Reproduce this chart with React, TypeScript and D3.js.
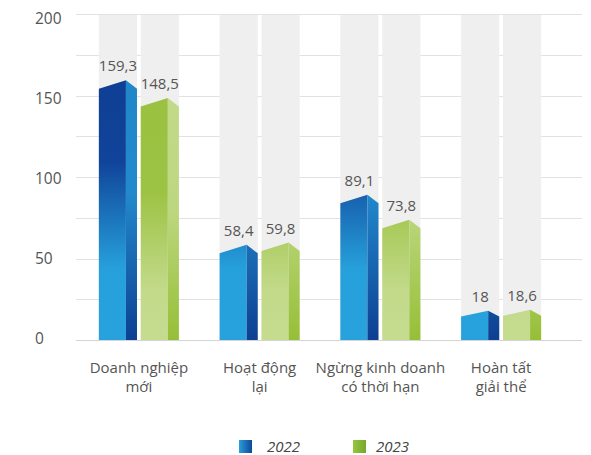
import React from "react";
import * as d3 from "d3";

const categories: string[][] = [
  ["Doanh nghiệp", "mới"],
  ["Hoạt động", "lại"],
  ["Ngừng kinh doanh", "có thời hạn"],
  ["Hoàn tất", "giải thể"],
];
const seriesNames = ["2022", "2023"];
const values2022 = [159.3, 58.4, 89.1, 18];
const values2023 = [148.5, 59.8, 73.8, 18.6];
const yTicks = [0, 50, 100, 150, 200];
const gridTicks = [0, 25, 50, 75, 100, 125, 150, 175, 200];

const W = 591;
const H = 455;
const FONT = "'Open Sans', 'DejaVu Sans', sans-serif";
const TEXT = "#555";

const fmt = (v: number) => String(v).replace(".", ",");

export default function App() {
  const y = d3.scaleLinear().domain([0, 200]).range([340, 14]);
  const yLabel = d3.scaleLinear().domain([0, 200]).range([339, 19]);
  const catKeys = categories.map((c) => c.join(" "));
  const x0 = d3
    .scaleBand<string>()
    .domain(catKeys)
    .range([78.5, 561.5])
    .paddingInner(0.337)
    .paddingOuter(0.1685);
  const x1 = d3
    .scaleBand<string>()
    .domain(seriesNames)
    .range([0, x0.bandwidth()])
    .paddingInner(0.09);

  const series = [values2022, values2023];
  const frontFill = ["url(#front22)", "url(#front23)"];
  const sideFill = ["url(#side22)", "url(#side23)"];

  const barPaths = (xs: number, w: number, v: number) => {
    const base = y(0);
    const peak = y(v);
    const drop = Math.min(8.5, (base - peak) * 0.2);
    const edge = peak + drop;
    const xm = xs + w * 0.71;
    const xe = xs + w;
    const front = `M${xs},${base}L${xs},${edge}L${xm},${peak}L${xm},${base}Z`;
    const side = `M${xm},${peak}L${xe},${edge}L${xe},${base}L${xm},${base}Z`;
    return { front, side, peak };
  };

  return (
    <svg
      width={W}
      height={H}
      style={{ position: "absolute", left: 0, top: 0, background: "#fff" }}
      fontFamily={FONT}
    >
      <defs>
        <linearGradient id="front22" gradientUnits="userSpaceOnUse" x1="0" y1="14" x2="0" y2="340">
          <stop offset="0" stopColor="#0d3c8f" />
          <stop offset="0.45" stopColor="#10439a" />
          <stop offset="0.78" stopColor="#26a0da" />
          <stop offset="1" stopColor="#28a2dc" />
        </linearGradient>
        <linearGradient id="side22" gradientUnits="userSpaceOnUse" x1="0" y1="14" x2="0" y2="340">
          <stop offset="0" stopColor="#1f86c8" />
          <stop offset="0.55" stopColor="#2289cc" />
          <stop offset="1" stopColor="#0d3f92" />
        </linearGradient>
        <linearGradient id="front23" gradientUnits="userSpaceOnUse" x1="0" y1="14" x2="0" y2="340">
          <stop offset="0" stopColor="#97bf3a" />
          <stop offset="0.55" stopColor="#9dc345" />
          <stop offset="0.85" stopColor="#c3da8b" />
          <stop offset="1" stopColor="#c5dc8f" />
        </linearGradient>
        <linearGradient id="side23" gradientUnits="userSpaceOnUse" x1="0" y1="14" x2="0" y2="340">
          <stop offset="0" stopColor="#c6dc90" />
          <stop offset="0.6" stopColor="#bdd780" />
          <stop offset="1" stopColor="#96bf37" />
        </linearGradient>
        <linearGradient id="leg22" x1="0" y1="0" x2="1" y2="0">
          <stop offset="0" stopColor="#2a9ed9" />
          <stop offset="1" stopColor="#0f4799" />
        </linearGradient>
        <linearGradient id="leg23" x1="0" y1="0" x2="1" y2="0">
          <stop offset="0" stopColor="#95c63c" />
          <stop offset="1" stopColor="#74a82f" />
        </linearGradient>
      </defs>

      {/* horizontal grid */}
      {gridTicks.map((t) => (
        <line
          key={t}
          x1={76}
          x2={582}
          y1={Math.round(y(t)) + 0.5}
          y2={Math.round(y(t)) + 0.5}
          stroke={t === 0 ? "#d4d4d4" : "#e2e2e2"}
          strokeWidth={1}
        />
      ))}

      {/* y tick labels */}
      {yTicks.map((t) => (
        <text key={t} x={35} y={yLabel(t)} dy="0.35em" fontSize={15.5} fill={TEXT}>
          {t}
        </text>
      ))}

      {/* background columns */}
      {catKeys.map((c) =>
        seriesNames.map((s) => (
          <rect
            key={c + s}
            x={(x0(c) ?? 0) + (x1(s) ?? 0)}
            y={y(200) + 1}
            width={x1.bandwidth()}
            height={y(0) - y(200) - 1}
            fill="#efefef"
          />
        ))
      )}

      {/* bars */}
      {catKeys.map((c, i) =>
        seriesNames.map((s, si) => {
          const v = series[si][i];
          const xs = (x0(c) ?? 0) + (x1(s) ?? 0);
          const w = x1.bandwidth();
          const p = barPaths(xs, w, v);
          return (
            <g key={c + s}>
              <path d={p.front} fill={frontFill[si]} />
              <path d={p.side} fill={sideFill[si]} />
              <text
                x={xs + w / 2}
                y={p.peak - 9}
                textAnchor="middle"
                fontSize={15}
                fill={TEXT}
              >
                {fmt(v)}
              </text>
            </g>
          );
        })
      )}

      {/* category labels */}
      {categories.map((lines, i) =>
        lines.map((l, li) => (
          <text
            key={catKeys[i] + li}
            x={(x0(catKeys[i]) ?? 0) + x0.bandwidth() / 2}
            y={373 + li * 18.5}
            textAnchor="middle"
            fontSize={15}
            fill={TEXT}
          >
            {l}
          </text>
        ))
      )}

      {/* legend */}
      <g>
        <rect x={239} y={440} width={13} height={13} fill="url(#leg22)" />
        <text x={267} y={452} fontSize={15} fontStyle="italic" fill="#444">
          {seriesNames[0]}
        </text>
        <rect x={353} y={440} width={13} height={13} fill="url(#leg23)" />
        <text x={376} y={452} fontSize={15} fontStyle="italic" fill="#444">
          {seriesNames[1]}
        </text>
      </g>
    </svg>
  );
}
